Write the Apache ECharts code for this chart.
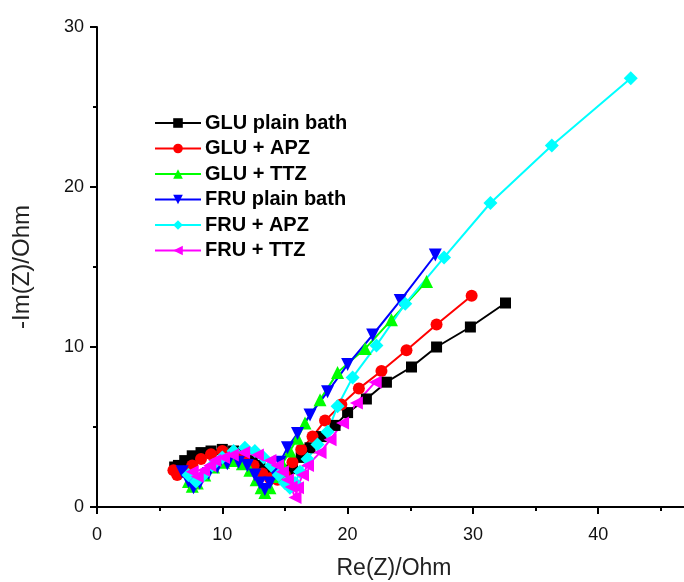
<!DOCTYPE html>
<html><head><meta charset="utf-8">
<script src="https://cdn.jsdelivr.net/npm/echarts@6/dist/echarts.min.js"></script>
<style>html,body{margin:0;padding:0;background:#fff}#c{width:684px;height:582px}</style>
</head><body><div id="c"></div>
<script>
const seriesNames = ['GLU plain bath', 'GLU + APZ', 'GLU + TTZ', 'FRU plain bath', 'FRU + APZ', 'FRU + TTZ'];
const xTicks = [0, 10, 20, 30, 40];
const yTicks = [0, 10, 20, 30];
const gluPlain = [[6.2,2.5],[6.5,2.6],[7.0,2.9],[7.6,3.2],[8.3,3.4],[9.1,3.5],[10.0,3.6],[10.9,3.5],[11.7,3.3],[12.4,2.9],[13.0,2.6],[13.6,2.3],[14.2,2.1],[14.8,2.1],[15.2,2.3],[15.6,2.4],[16.3,3.1],[17.0,3.7],[17.9,4.4],[19.0,5.1],[20.0,5.9],[21.5,6.75],[23.1,7.8],[25.1,8.75],[27.1,10.0],[29.8,11.25],[32.6,12.75]];
const gluApz = [[6.1,2.3],[6.4,2.0],[6.9,2.2],[7.6,2.6],[8.3,3.0],[9.1,3.3],[10.0,3.5],[10.9,3.4],[11.7,3.1],[12.5,2.6],[13.2,2.1],[13.8,1.8],[14.4,1.7],[15.0,2.0],[15.6,2.8],[16.3,3.6],[17.2,4.4],[18.2,5.4],[19.5,6.4],[20.9,7.4],[22.7,8.5],[24.7,9.8],[27.1,11.4],[29.9,13.2]];
const gluTtz = [[7.3,1.6],[7.6,1.3],[8.0,1.5],[8.6,2.0],[9.3,2.5],[10.1,2.8],[10.9,2.9],[11.6,2.7],[12.2,2.3],[12.7,1.7],[13.1,1.2],[13.4,0.9],[13.8,1.2],[14.3,1.9],[14.8,2.7],[15.4,3.5],[16.0,4.3],[16.6,5.25],[17.8,6.7],[19.2,8.4],[21.4,9.9],[23.5,11.7],[26.3,14.1]];
const fruPlain = [[6.8,2.2],[7.3,1.6],[7.7,1.2],[8.2,1.5],[8.9,2.1],[9.6,2.5],[10.4,2.7],[11.3,2.8],[12.0,2.6],[12.6,2.0],[13.0,1.5],[13.4,1.1],[13.8,1.5],[14.2,2.1],[14.6,2.8],[15.2,3.7],[16.0,4.6],[17.0,5.75],[18.4,7.2],[20.0,8.9],[22.0,10.75],[24.2,12.9],[27.0,15.75]];
const fruApz = [[7.3,2.0],[7.9,1.6],[8.5,2.0],[9.2,2.6],[10.0,3.1],[10.9,3.5],[11.8,3.7],[12.6,3.5],[13.3,3.1],[13.9,2.6],[14.5,2.0],[15.0,1.5],[15.4,1.2],[15.8,1.5],[16.2,2.2],[16.8,3.0],[17.6,3.9],[18.4,4.7],[19.2,6.3],[20.4,8.1],[22.3,10.1],[24.6,12.7],[27.7,15.6],[31.4,19.0],[36.3,22.6],[42.6,26.8]];
const fruTtz = [[7.6,2.2],[8.0,1.9],[8.5,2.3],[9.0,2.6],[9.4,2.9],[10.1,3.1],[10.8,3.25],[11.7,3.4],[12.8,3.25],[13.8,2.9],[14.4,2.6],[14.8,2.2],[15.2,1.7],[15.5,1.25],[15.8,0.6],[16.0,1.2],[16.4,2.0],[16.8,2.6],[17.8,3.4],[18.6,4.2],[19.6,5.25],[20.7,6.5],[22.2,7.8]];

const allData = [gluPlain, gluApz, gluTtz, fruPlain, fruApz, fruTtz];
const colors = ['#000000', '#ff0000', '#00ff00', '#0000ff', '#00ffff', '#ff00ff'];
const symbols = ['rect', 'circle', 'triangle', 'triangle', 'diamond', 'triangle'];
const rotations = [0, 0, 0, 180, 0, 90];
const sizes = [11, 12, 13, 13, 14, 13];

const font = 'Arial, "Liberation Sans", sans-serif';
const chart = echarts.init(document.getElementById('c'), null, {renderer: 'canvas'});
const axisCommon = {
  axisLine: {show: true, onZero: false, lineStyle: {color: '#000', width: 2}},
  axisTick: {show: true, inside: false, length: 7, lineStyle: {color: '#000', width: 2}},
  minorTick: {show: true, splitNumber: 2, length: 4, lineStyle: {color: '#000', width: 2}},
  splitLine: {show: false},
  axisLabel: {color: '#111', fontFamily: font, fontSize: 18}
};
chart.setOption({
  animation: false,
  backgroundColor: '#fff',
  grid: {left: 97, top: 27, height: 480, width: 626.5, containLabel: false, outerBoundsMode: 'none'},
  legend: {
    orient: 'vertical', left: 149, top: 108, itemWidth: 46, itemHeight: 12, itemGap: 5.5,
    textStyle: {fontFamily: font, fontWeight: 'bold', fontSize: 20, color: '#000', padding: [0, 0, 0, -1]},
    data: seriesNames
  },
  xAxis: [Object.assign({}, axisCommon, {
    type: 'value', min: 0, max: 50, interval: 10,
    axisLabel: Object.assign({}, axisCommon.axisLabel, {
      margin: 19,
      formatter: v => xTicks.includes(v) ? String(v) : ''
    })
  }), {
    type: 'value', position: 'top', min: 0, max: 50, gridIndex: 0,
    axisLine: {show: true, lineStyle: {color: '#000', width: 2}},
    axisTick: {show: false}, axisLabel: {show: false}, splitLine: {show: false}
  }],
  yAxis: Object.assign({}, axisCommon, {
    type: 'value', min: 0, max: 30, interval: 10,
    name: '-Im(Z)/Ohm', nameLocation: 'middle', nameGap: 63,
    nameTextStyle: {fontFamily: font, fontSize: 24, color: '#222'},
    axisLabel: Object.assign({}, axisCommon.axisLabel, {
      margin: 13,
      formatter: v => yTicks.includes(v) ? String(v) : ''
    })
  }),
  graphic: [{
    type: 'text', x: 394, y: 569,
    style: {text: 'Re(Z)/Ohm', font: '23px ' + font, fill: '#222', align: 'center', verticalAlign: 'middle'}
  }],
  series: allData.map((d, i) => ({
    name: seriesNames[i], type: 'line', data: d,
    symbol: symbols[i], symbolRotate: rotations[i], symbolSize: sizes[i],
    showAllSymbol: true,
    lineStyle: {color: colors[i], width: 2},
    itemStyle: {color: colors[i]},
    clip: true
  }))
});
</script></body></html>
